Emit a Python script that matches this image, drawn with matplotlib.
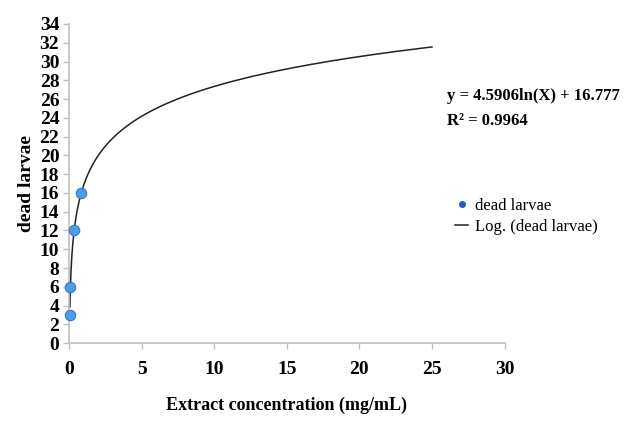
import numpy as np
import matplotlib.pyplot as plt
from matplotlib.lines import Line2D

# observed points
conc = [0.05, 0.1, 0.33, 0.8]
dead = [3, 6, 12, 16]

# logarithmic trendline as given on the chart
a, b = 4.5906, 16.777
r2 = 0.9964
x_start, x_end = 0.06, 25

plt.rcParams['font.family'] = ['Liberation Serif', 'DejaVu Serif']

fig = plt.figure(figsize=(6.24, 4.21), dpi=100)
ax = fig.add_axes([0.1106, 0.185, 0.698, 0.758])

xs = np.linspace(np.log(x_start), np.log(x_end), 400)
xs = np.exp(xs)
ax.plot(xs, a * np.log(xs) + b, color='#222222', lw=1.1, zorder=2)
ax.plot(conc, dead, 'o', ms=7.5, mfc='#4f9be6', mec='#2f78cf', mew=0.8,
        zorder=3, clip_on=False)

ax.set_xlim(0, 30)
ax.set_ylim(0, 34)
ax.set_xticks(range(0, 31, 5))
ax.set_yticks(range(0, 35, 2))
for s in ['top', 'right']:
    ax.spines[s].set_visible(False)
for s in ['left', 'bottom']:
    ax.spines[s].set_color('#bfbfbf')
    ax.spines[s].set_linewidth(1.2)
ax.tick_params(colors='#bfbfbf', labelcolor='black', length=4, width=1)
ax.tick_params(axis='x', pad=9)
ax.tick_params(axis='y', pad=3)
for lab in ax.get_xticklabels() + ax.get_yticklabels():
    lab.set_fontsize(14)
    lab.set_fontweight('bold')

ax.set_xlabel('Extract concentration (mg/mL)', fontsize=13,
              fontweight='bold', labelpad=13)
ax.set_ylabel('dead larvae', fontsize=14, fontweight='bold', labelpad=3)

fig.text(0.716, 0.762, 'y = %.4fln(X) + %.3f' % (a, b), fontsize=12,
         fontweight='bold')
fig.text(0.716, 0.702, 'R\u00b2 = %.4f' % r2, fontsize=12,
         fontweight='bold')

handles = [Line2D([], [], ls='none', marker='o', ms=4, color='#1f5fc0'),
           Line2D([], [], color='#222222', lw=1.1)]
fig.legend(handles, ['dead larvae', 'Log. (dead larvae)'],
           loc='upper left', bbox_to_anchor=(0.705, 0.565),
           frameon=False, fontsize=12, handlelength=0.8,
           handletextpad=0.4, labelspacing=0.3)

fig.savefig('out.png', dpi=100)
